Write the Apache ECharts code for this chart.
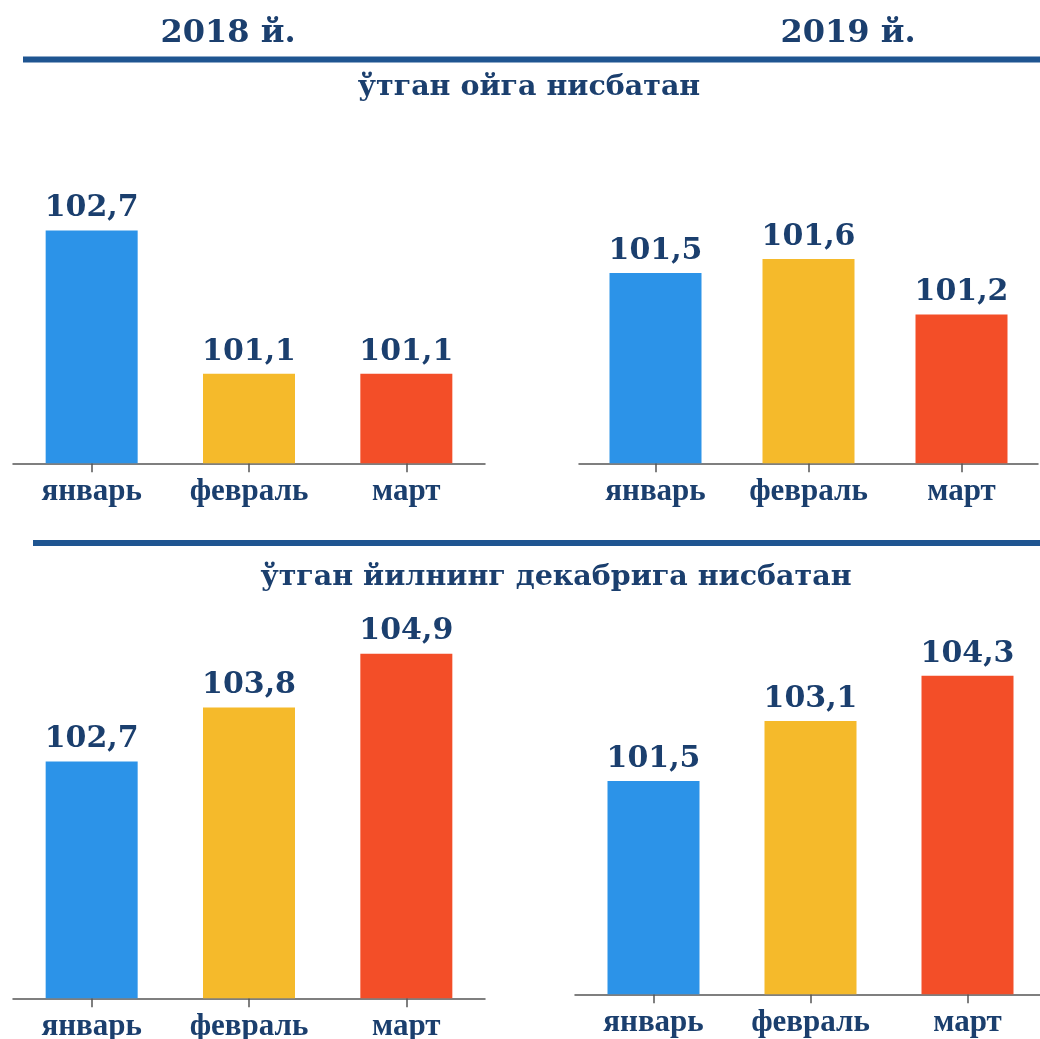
<!DOCTYPE html>
<html>
<head>
<meta charset="utf-8">
<script src="https://cdn.jsdelivr.net/npm/echarts@6/dist/echarts.min.js"></script>
<style>
  html, body { margin: 0; padding: 0; background: #ffffff; }
  #chart { width: 1040px; height: 1039px; }
</style>
</head>
<body>
<div id="chart"></div>
<script>
// ---- data ----
const categories = ['январь', 'февраль', 'март'];
const mom2018 = [102.7, 101.1, 101.1];   // ўтган ойга нисбатан, 2018
const mom2019 = [101.5, 101.6, 101.2];   // ўтган ойга нисбатан, 2019
const ytd2018 = [102.7, 103.8, 104.9];   // ўтган йилнинг декабрига нисбатан, 2018
const ytd2019 = [101.5, 103.1, 104.3];   // ўтган йилнинг декабрига нисбатан, 2019
const yearTitles = ['2018 й.', '2019 й.'];
const sectionTitles = ['ўтган ойга нисбатан', 'ўтган йилнинг декабрига нисбатан'];

// ---- style ----
const barColors = ['#2C93E8', '#F5BA2B', '#F34E28'];
const navy = '#1B3F6E';
const serif = '"DejaVu Serif", "Liberation Serif", serif';
const times = '"Liberation Serif", "DejaVu Serif", serif';

const panels = [
  { data: mom2018, grid: { left: 13,  top: 176.7, width: 472, height: 286.6 }, min: 100.1,  max: 103.3 },
  { data: mom2019, grid: { left: 579, top: 175.6, width: 459, height: 287.7 }, min: 100.13, max: 102.2 },
  { data: ytd2018, grid: { left: 13,  top: 639,   width: 472, height: 359.3 }, min: 97.86,  max: 105.2 },
  { data: ytd2019, grid: { left: 575, top: 638.2, width: 471, height: 356.1 }, min: 95.83,  max: 105.3 }
];

const chart = echarts.init(document.getElementById('chart'), null, { renderer: 'canvas' });

const option = {
  backgroundColor: '#ffffff',
  animation: false,
  title: [
    { text: yearTitles[0], left: 228, top: 18, textAlign: 'center', padding: 0,
      textStyle: { fontFamily: serif, fontWeight: 'bold', fontSize: 32, color: navy } },
    { text: yearTitles[1], left: 848, top: 18, textAlign: 'center', padding: 0,
      textStyle: { fontFamily: serif, fontWeight: 'bold', fontSize: 32, color: navy } },
    { text: sectionTitles[0], left: 529, top: 73, textAlign: 'center', padding: 0,
      textStyle: { fontFamily: serif, fontWeight: 'bold', fontSize: 28.5, color: navy } },
    { text: sectionTitles[1], left: 556, top: 563, textAlign: 'center', padding: 0,
      textStyle: { fontFamily: serif, fontWeight: 'bold', fontSize: 28.5, color: navy } }
  ],
  graphic: [
    { type: 'line', shape: { x1: 23, y1: 59.5, x2: 1040, y2: 59.5 },
      style: { stroke: '#1F5591', lineWidth: 6 } },
    { type: 'line', shape: { x1: 33, y1: 543, x2: 1040, y2: 543 },
      style: { stroke: '#1F5591', lineWidth: 6 } }
  ],
  grid: panels.map(p => Object.assign({ containLabel: false, outerBoundsMode: 'none' }, p.grid)),
  xAxis: panels.map((p, i) => ({
    type: 'category',
    gridIndex: i,
    data: categories,
    axisLine: { show: true, lineStyle: { color: '#555555', width: 1.5 } },
    axisTick: { show: true, alignWithLabel: true, length: 9, lineStyle: { color: '#555555', width: 1.5 } },
    axisLabel: { margin: 13, fontFamily: times, fontWeight: 'bold', fontSize: 31, color: navy, interval: 0 },
    splitLine: { show: false }
  })),
  yAxis: panels.map((p, i) => ({
    type: 'value',
    gridIndex: i,
    min: p.min,
    max: p.max,
    show: false,
    splitLine: { show: false }
  })),
  series: panels.map((p, i) => ({
    type: 'bar',
    xAxisIndex: i,
    yAxisIndex: i,
    data: p.data,
    barWidth: 92,
    itemStyle: { color: params => barColors[params.dataIndex] },
    label: {
      show: true,
      position: 'top',
      distance: 7,
      fontFamily: serif,
      fontWeight: 'bold',
      fontSize: 30,
      color: navy,
      formatter: params => params.value.toFixed(1).replace('.', ',')
    }
  }))
};

chart.setOption(option);
</script>
</body>
</html>
